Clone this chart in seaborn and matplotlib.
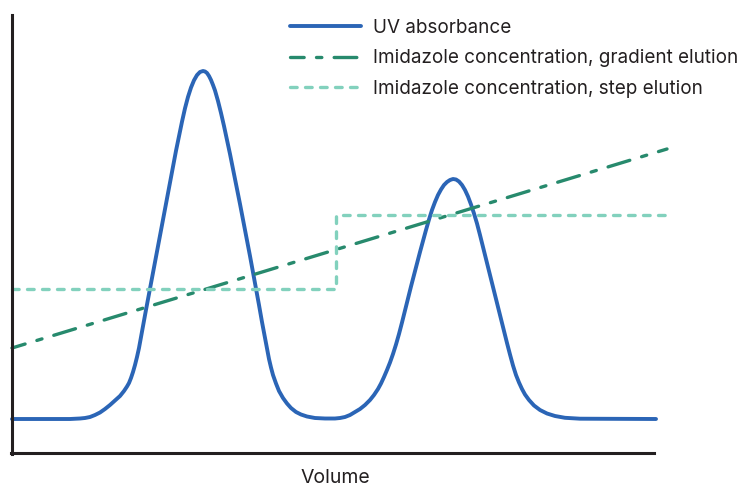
import matplotlib
matplotlib.use("Agg")
import matplotlib.pyplot as plt
import seaborn as sns
import pandas as pd

# ---- data (arbitrary units) ----
uv_volume = [0, 58, 68, 73, 78, 83, 88, 93, 98, 103, 108, 112, 115, 117, 119,
             121, 123, 125, 127, 128, 131, 134, 137, 140, 143, 146, 149, 152, 155,
             158, 161, 164, 167, 170, 173, 176, 179, 182, 185, 188, 191, 193, 195,
             197, 199, 201, 203, 206, 209, 212, 215, 218, 221, 224, 228, 233, 238,
             243, 247, 250, 253, 255, 257, 259, 261, 264, 267, 271, 275, 279, 284,
             289, 295, 303, 313, 323, 328, 333, 338, 343, 348, 353, 358, 362, 366,
             369, 372, 375, 378, 381, 384, 387, 390, 393, 396, 399, 402, 405, 408,
             411, 414, 417, 420, 423, 426, 429, 432, 435, 438, 441, 444, 447, 450,
             453, 456, 459, 462, 465, 468, 471, 474, 477, 480, 483, 486, 489, 492,
             495, 498, 501, 504, 507, 510, 513, 517, 522, 528, 535, 543, 553, 568,
             644]
uv_absorbance = [34, 34, 34.5, 35, 36, 38, 40.5, 44, 48, 52.5, 57, 62, 66.5, 70, 75,
                 81, 88, 96, 105, 110.5, 127, 143.2, 159.1, 175, 190.9, 206.8, 222.7, 238.6, 254.5,
                 270.4, 286.3, 302.2, 317, 331.3, 344.7, 356.1, 365.4, 372.7, 377.9, 381, 382, 381.5, 380,
                 377, 373, 368, 362.5, 352, 340, 327, 313, 299, 284, 269, 249, 223, 197,
                 170, 148, 131, 115, 104, 94, 85.5, 78, 69.5, 62, 55, 49.5, 45, 41,
                 38.5, 36.5, 35, 34.5, 34.5, 35, 36, 38, 41, 44, 48, 53, 58, 64,
                 69.5, 76, 83, 90.5, 99, 108.5, 119, 130.5, 142.5, 154.5, 166.5, 178, 189.5, 201,
                 212, 223, 233.5, 243, 251, 258, 263.5, 268, 271, 273, 274, 273.5, 271.5, 268,
                 263, 256.5, 248.5, 239.5, 229.5, 218, 206, 194, 182, 170, 158, 146, 134, 122,
                 110, 98.5, 87.5, 78, 70.5, 64, 58.5, 53, 47.5, 43, 39.5, 37, 35.2, 34.3,
                 34]

gradient_volume = [0, 655]
gradient_conc = [105, 304]

step_volume = [0, 324, 324, 655]
step_conc = [164, 164, 238, 238]

labels = ["UV absorbance",
          "Imidazole concentration, gradient elution",
          "Imidazole concentration, step elution"]
x_label = "Volume"

# ---- style ----
sns.set_style("white")
plt.rcParams["font.family"] = ["Inter", "DejaVu Sans"]

INK = "#231f20"
C_UV = "#2b65b6"
C_GRAD = "#278a6d"
C_STEP = "#82d1bd"

fig = plt.figure(figsize=(7.43, 4.86), dpi=100)
ax = fig.add_axes([12 / 743, 33 / 486, 658 / 743, 438 / 486])

uv_df = pd.DataFrame({"v": uv_volume, "a": uv_absorbance})
gr_df = pd.DataFrame({"v": gradient_volume, "c": gradient_conc})
st_df = pd.DataFrame({"v": step_volume, "c": step_conc})

sns.lineplot(data=uv_df, x="v", y="a", ax=ax, color=C_UV, lw=2.8,
             sort=False, estimator=None, label=labels[0],
             solid_capstyle="round", solid_joinstyle="round", clip_on=False)
sns.lineplot(data=gr_df, x="v", y="c", ax=ax, color=C_GRAD, lw=2.4,
             sort=False, estimator=None, label=labels[1], clip_on=False,
             linestyle=(2.7, (6.8, 3.7, 1.6, 3.7)), dash_capstyle="round")
sns.lineplot(data=st_df, x="v", y="c", ax=ax, color=C_STEP, lw=2.4,
             sort=False, estimator=None, label=labels[2], clip_on=False,
             linestyle=(0, (2.0, 2.5)), dash_capstyle="round")

ax.set_xlim(0, 658)
ax.set_ylim(0, 438)
ax.set_xticks([])
ax.set_yticks([])
ax.set_ylabel("")
ax.set_xlabel(x_label, fontsize=14, color=INK)
ax.xaxis.set_label_coords(0.492, -0.037)

for s in ["top", "right"]:
    ax.spines[s].set_visible(False)
for s in ["left", "bottom"]:
    ax.spines[s].set_visible(True)
    ax.spines[s].set_color(INK)
    ax.spines[s].set_linewidth(2.2)
ax.spines["bottom"].set_bounds(-1, 642)
ax.spines["left"].set_bounds(-1, 438)

leg = ax.legend(loc="upper left", bbox_to_anchor=(290 / 743, 1 - 19 / 486),
                bbox_transform=fig.transFigure, frameon=False, fontsize=13.6,
                borderpad=0, borderaxespad=0, handlelength=3.75,
                handletextpad=0.62, labelspacing=0.66)
for t in leg.get_texts():
    t.set_color(INK)

fig.savefig("out.png", dpi=100)
